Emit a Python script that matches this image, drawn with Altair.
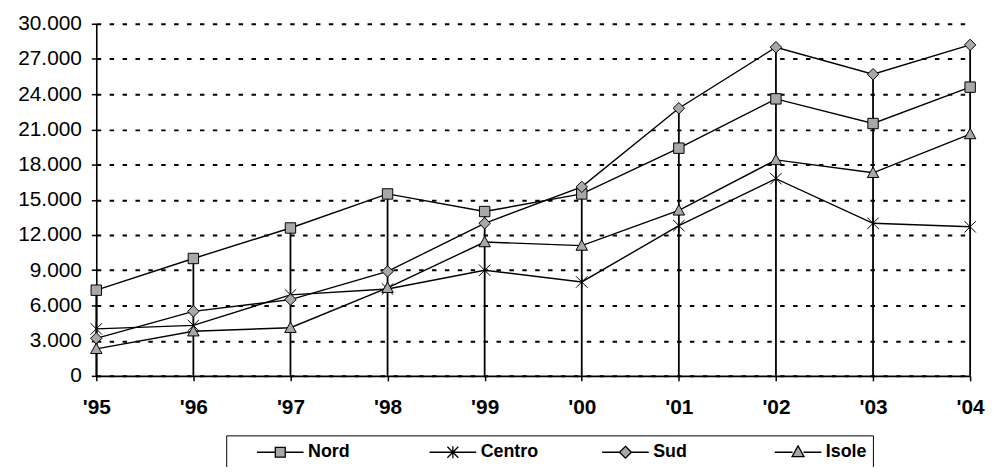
import altair as alt
import pandas as pd

years = ["'95", "'96", "'97", "'98", "'99", "'00", "'01", "'02", "'03", "'04"]
series = ["Nord", "Centro", "Sud", "Isole"]
nord = [7300, 10000, 12600, 15500, 14000, 15500, 19400, 23600, 21500, 24600]
centro = [4000, 4300, 6900, 7400, 9000, 8000, 12800, 16800, 13000, 12700]
sud = [3200, 5500, 6500, 8900, 13000, 16100, 22800, 28000, 25700, 28200]
isole = [2300, 3800, 4100, 7500, 11400, 11100, 14100, 18400, 17300, 20600]
y_ticks = [0, 3000, 6000, 9000, 12000, 15000, 18000, 21000, 24000, 27000, 30000]

rows = []
for s, vals in zip(series, [nord, centro, sud, isole]):
    for yr, v in zip(years, vals):
        rows.append({"anno": yr, "serie": s, "valore": v})
df = pd.DataFrame(rows)

FONT = "Liberation Sans"
GRAY = "#a8a8a8"

marker_paths = [
    "M-1,-1H1V1H-1Z",
    "M-1.1,-1.1L1.1,1.1M-1.1,1.1L1.1,-1.1M0,-1.2V1.2",
    "M0,-1.1L1.1,0L0,1.1L-1.1,0Z",
    "M0,-1.1L1.1,0.9H-1.1Z",
]
legend_paths = [
    "M-2.35,0H-0.5M0.5,0H2.35M-0.5,-0.5H0.5V0.5H-0.5Z",
    "M-2.35,0H2.35M-0.55,-0.55L0.55,0.55M-0.55,0.55L0.55,-0.55M0,-0.6V0.6",
    "M-2.35,0H-0.6M0.6,0H2.35M0,-0.6L0.6,0L0,0.6L-0.6,0Z",
    "M-2.35,0H-0.55M0.55,0H2.35M0,-0.65L0.6,0.45H-0.6Z",
]

x_enc = alt.X(
    "anno:O",
    sort=years,
    scale=alt.Scale(type="point", padding=0),
    axis=alt.Axis(
        title=None, labelAngle=0, labelFont=FONT, labelFontSize=21,
        labelFontWeight="bold", labelColor="black", tickColor="black",
        tickSize=5, tickWidth=1.5, domainColor="black", domainWidth=1.6,
        labelPadding=16, grid=False,
    ),
)
y_axis = alt.Axis(
    title=None, values=y_ticks,
    labelExpr="replace(format(datum.value, ','), ',', '.')",
    labelFont=FONT, labelFontSize=21, labelColor="black",
    tickColor="black", tickSize=5, tickWidth=1.5,
    domainColor="black", domainWidth=1.6, labelPadding=10,
    grid=True, gridColor="black", gridDash=[4.5, 8.5], gridWidth=2,
)
y_scale = alt.Scale(domain=[0, 30000], nice=False)

drops = alt.Chart(df).mark_rule(color="black", strokeWidth=1.8).encode(
    x=x_enc,
    y=alt.Y("max(valore):Q", scale=y_scale, axis=y_axis),
    y2=alt.datum(0),
)

lines = alt.Chart(df).mark_line(color="black", strokeWidth=1.4).encode(
    x=x_enc,
    y=alt.Y("valore:Q", scale=y_scale, axis=y_axis),
    detail="serie:N",
)

points = alt.Chart(df).mark_point(
    fill=GRAY, stroke="black", strokeWidth=1, opacity=1, size=110
).encode(
    x=x_enc,
    y=alt.Y("valore:Q", scale=y_scale, axis=y_axis),
    shape=alt.Shape("serie:N", scale=alt.Scale(domain=series, range=marker_paths), legend=None),
)

legend_layer = alt.Chart(df).transform_filter("false").mark_point(
    fill=GRAY, stroke="black", strokeWidth=1.3, opacity=1
).encode(
    shape=alt.Shape(
        "serie:N",
        scale=alt.Scale(domain=series, range=legend_paths),
        legend=alt.Legend(
            title=None, orient="none", legendX=131, legendY=415,
            direction="horizontal", columns=4, gridAlign="all",
            columnPadding=39, padding=6, strokeColor="black",
            symbolSize=400, symbolStrokeWidth=1.3, symbolOpacity=1,
            symbolOffset=37.5, labelOffset=17,
            labelFont=FONT, labelFontSize=18, labelFontWeight="bold",
            labelColor="black", labelLimit=200,
        ),
    ),
)

chart = (
    alt.layer(drops, lines, points, legend_layer)
    .resolve_scale(shape="independent")
    .resolve_legend(shape="independent")
    .properties(
        width=881, height=355,
        autosize=alt.AutoSizeParams(type="none"),
        padding={"left": 89, "top": 14, "right": 16, "bottom": 90},
        background="white",
    )
    .configure_view(stroke=None)
)

chart.save("out.html", embed_options={"renderer": "svg", "actions": False})
